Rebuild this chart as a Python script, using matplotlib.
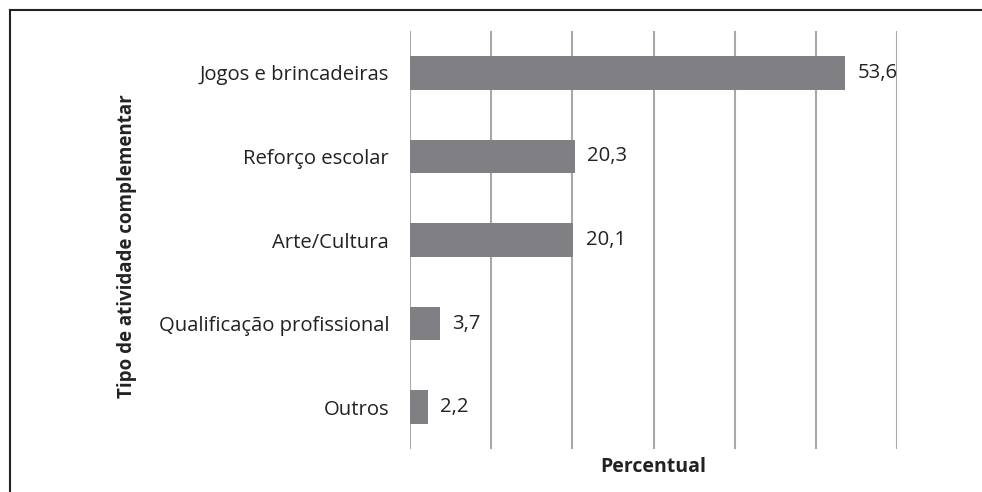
import matplotlib.pyplot as plt
from matplotlib.lines import Line2D

categories = ["Jogos e brincadeiras", "Reforço escolar", "Arte/Cultura",
              "Qualificação profissional", "Outros"]
values = [53.6, 20.3, 20.1, 3.7, 2.2]
value_labels = ["53,6", "20,3", "20,1", "3,7", "2,2"]

plt.rcParams['font.family'] = ['Open Sans', 'DejaVu Sans']

fig = plt.figure(figsize=(9.82, 4.92), dpi=100)
W, H = 982, 492
ax = fig.add_axes([410 / W, 1 - 449 / H, (897 - 410) / W, (449 - 31) / H])

y = list(range(len(categories)))
ax.barh(y, values, height=0.4, color='#808084', zorder=3)
ax.set_xlim(0, 60)
ax.set_ylim(len(categories) - 0.5, -0.5)
ax.set_xticks(range(0, 61, 10))
ax.set_xticklabels([])
ax.tick_params(axis='x', length=0)
ax.tick_params(axis='y', length=0, pad=15, labelsize=14.6, labelcolor='#222222')
ax.set_yticks(y)
ax.set_yticklabels(categories)
ax.grid(axis='x', color='#a8a8a8', linewidth=1.5, zorder=0)
for s in ax.spines.values():
    s.set_visible(False)

for yi, v, lab in zip(y, values, value_labels):
    ax.annotate(lab, (v, yi), xytext=(9, 0), textcoords='offset points',
                va='center', ha='left', fontsize=14.6, color='#222222')

fig.text(127 / W, 1 - 246 / H, "Tipo de atividade complementar", rotation=90,
         ha='center', va='center', fontsize=13.5, fontweight='bold', color='#222222')
fig.text(653 / W, 1 - 467 / H, "Percentual", ha='center', va='center',
         fontsize=14, fontweight='bold', color='#222222')

# outer frame (top and left edges visible)
fig.add_artist(Line2D([10 / W, 1], [1 - 10 / H, 1 - 10 / H], color='#222222', lw=1.5))
fig.add_artist(Line2D([10 / W, 10 / W], [0, 1 - 10 / H], color='#222222', lw=1.5))

fig.savefig("out.png", dpi=100)
